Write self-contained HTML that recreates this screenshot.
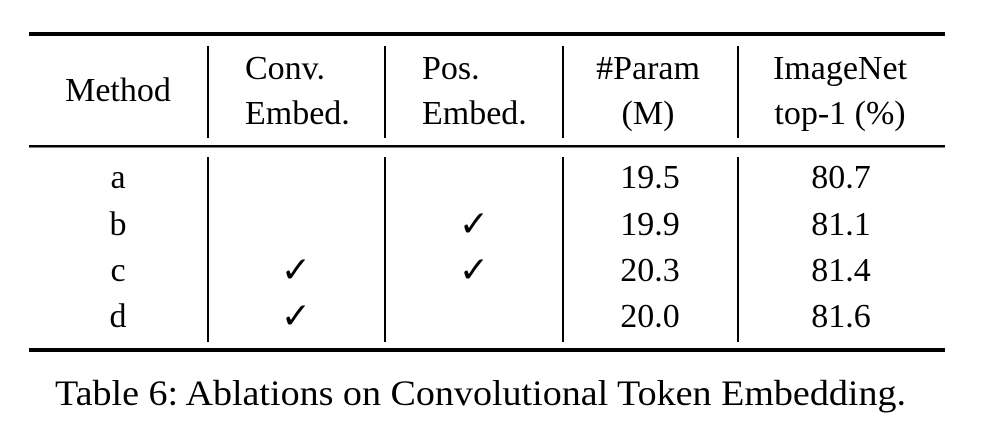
<!DOCTYPE html>
<html><head><meta charset="utf-8"><style>
html,body{margin:0;padding:0;background:#fff;}
svg{display:block;}
text{font-family:"Liberation Serif","DejaVu Serif",serif;font-size:34px;fill:#000;}
.ck{font-family:"DejaVu Sans",sans-serif;font-size:36px;font-weight:bold;}
.cap{font-size:36px;}
</style></head><body>
<svg width="984" height="434" viewBox="0 0 984 434">
<g>
<rect x="29" y="32" width="916" height="4"/>
<rect x="29" y="145" width="916" height="2.5"/>
<rect x="29" y="348" width="916" height="4"/>
<g>
<rect x="207" y="46" width="2" height="92"/><rect x="207" y="157" width="2" height="185"/>
<rect x="384" y="46" width="2" height="92"/><rect x="384" y="157" width="2" height="185"/>
<rect x="562" y="46" width="2" height="92"/><rect x="562" y="157" width="2" height="185"/>
<rect x="737" y="46" width="2" height="92"/><rect x="737" y="157" width="2" height="185"/>
</g></g>
<g>
<text x="118" y="101" text-anchor="middle">Method</text>
<text x="245" y="79">Conv.</text>
<text x="245" y="124">Embed.</text>
<text x="422" y="79">Pos.</text>
<text x="422" y="124">Embed.</text>
<text x="648" y="79" text-anchor="middle">#Param</text>
<text x="648" y="124" text-anchor="middle">(M)</text>
<text x="840" y="79" text-anchor="middle">ImageNet</text>
<text x="840" y="124" text-anchor="middle">top-1 (%)</text>
</g>
<g>
<text x="118" y="188" text-anchor="middle">a</text>
<text x="650" y="188" text-anchor="middle">19.5</text>
<text x="841" y="188" text-anchor="middle">80.7</text>
</g>
<g>
<text x="118" y="235" text-anchor="middle">b</text>
<text class="ck" x="474" y="236" text-anchor="middle">✓</text>
<text x="650" y="235" text-anchor="middle">19.9</text>
<text x="841" y="235" text-anchor="middle">81.1</text>
</g>
<g>
<text x="118" y="281" text-anchor="middle">c</text>
<text class="ck" x="296" y="282" text-anchor="middle">✓</text>
<text class="ck" x="474" y="282" text-anchor="middle">✓</text>
<text x="650" y="281" text-anchor="middle">20.3</text>
<text x="841" y="281" text-anchor="middle">81.4</text>
</g>
<g>
<text x="118" y="327" text-anchor="middle">d</text>
<text class="ck" x="296" y="328" text-anchor="middle">✓</text>
<text x="650" y="327" text-anchor="middle">20.0</text>
<text x="841" y="327" text-anchor="middle">81.6</text>
</g>
<text class="cap" x="55" y="405" textLength="851" lengthAdjust="spacingAndGlyphs">Table 6: Ablations on Convolutional Token Embedding.</text>
</svg>
</body></html>
